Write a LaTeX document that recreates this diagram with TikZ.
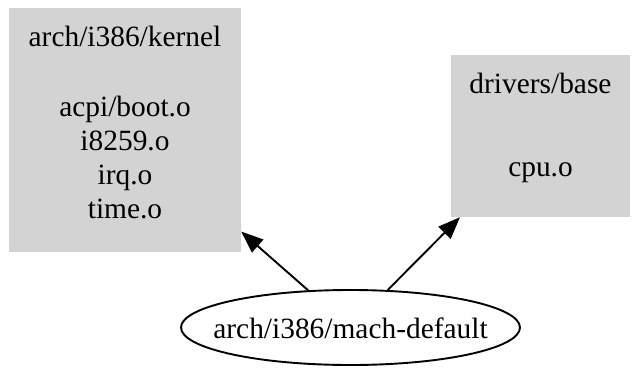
\documentclass[tikz,border=0pt]{standalone}
\usepackage{fontspec}
\setmainfont{Liberation Serif}
\usetikzlibrary{arrows.meta,shapes.geometric}
\definecolor{boxgray}{HTML}{D3D3D3}
\tikzset{
  dirbox/.style={rectangle, fill=boxgray, draw=none, inner sep=0pt},
  txt/.style={anchor=base, inner sep=0pt, font=\fontsize{29.4}{34}\selectfont},
  modnode/.style={ellipse, draw=black, line width=1.9pt, inner sep=0pt,
    minimum width=339pt, minimum height=75pt, text depth=0pt, text height=22pt,
    font=\fontsize{29.4}{34}\selectfont},
  dep/.style={draw=black, line width=1.9pt,
    -{Triangle[length=22pt,width=17pt]}}
}
\begin{document}
\begin{tikzpicture}[x=1pt,y=-1pt]
  \useasboundingbox (0,0) rectangle (632,367);

  % directory boxes
  \node[dirbox, minimum width=232pt, minimum height=244pt] (kernel) at (125,130) {};
  \node[dirbox, minimum width=179pt, minimum height=162pt] (drivers) at (540.5,136) {};

  % contents of arch/i386/kernel
  \node[txt] (kt) at (125,46) {arch/i386/kernel};
  \node[txt] (k1) at (125,116) {acpi/boot.o};
  \node[txt] (k2) at (125,150) {i8259.o};
  \node[txt] (k3) at (125,184) {irq.o};
  \node[txt] (k4) at (125,218) {time.o};

  % contents of drivers/base
  \node[txt] (dt) at (540.5,93) {drivers/base};
  \node[txt] (d1) at (540.5,176) {cpu.o};

  % the module (label boxed at zero width so the ellipse keeps its size)
  \node[modnode] (mach) at (350.5,327.5) {\makebox[0pt]{arch/i386/mach-default}};

  % dependencies
  \draw[dep] (mach) -- (kernel);
  \draw[dep] (mach) -- (drivers);
\end{tikzpicture}
\end{document}
